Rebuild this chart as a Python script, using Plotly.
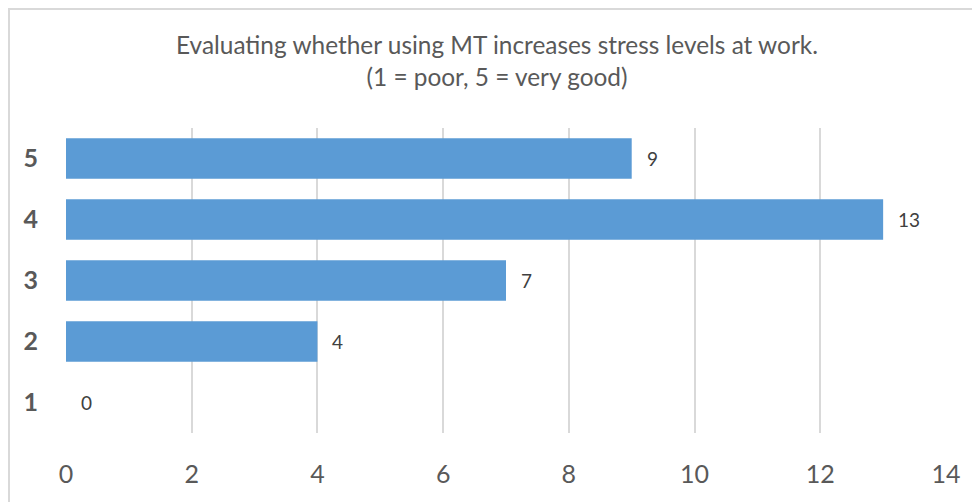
import plotly.graph_objects as go

categories = ["1", "2", "3", "4", "5"]
values = [0, 4, 7, 13, 9]
x_ticks = [0, 2, 4, 6, 8, 10, 12, 14]

title_text = "Evaluating whether using MT increases stress levels at work.<br>(1 = poor, 5 = very good)"

# the page body has an 8px margin, so the figure starts at (8, 8)
OFF = 8
W, H = 980 - OFF, 502 - OFF
L, R, T, B = 66 - OFF, 34, 128 - OFF, 69
pw, ph = W - L - R, H - T - B

fig = go.Figure(go.Bar(
    y=categories, x=values, orientation="h",
    marker=dict(color="#5B9BD5", line=dict(width=0)),
    hoverinfo="x+y",
))

for i, v in enumerate(values):
    fig.add_annotation(x=v, y=i, text=str(v), showarrow=False, xanchor="left",
                       xshift=13, font=dict(family="Lato", size=19, color="#404040"))

fig.update_layout(
    width=W, height=H,
    margin=dict(l=L, r=R, t=T, b=B, autoexpand=False),
    paper_bgcolor="white", plot_bgcolor="white",
    bargap=0.34,
    showlegend=False,
    title=dict(text=title_text, x=(497 - OFF) / W, xanchor="center", y=1 - (54 - OFF) / H, yanchor="middle",
               font=dict(family="Lato", size=24.4, color="#595959")),
    xaxis=dict(range=[0, 14], tickvals=x_ticks, showgrid=True, gridcolor="#D9D9D9", gridwidth=2,
               zeroline=False, showline=False, ticks="", ticklabelstandoff=24,
               tickfont=dict(family="Lato", size=25, color="#595959")),
    yaxis=dict(type="category", range=[-0.5, 4.5], showgrid=False, zeroline=False, showline=False,
               ticks="", ticklabelstandoff=27,
               tickfont=dict(family="Lato", size=25, color="#595959", weight="bold")),
    shapes=[dict(type="rect", xref="paper", yref="paper",
                 x0=1 / pw - L / pw, x1=2, y0=-1, y1=1 + (T - 1) / ph,
                 line=dict(color="#D9D9D9", width=2), layer="below")],
)

fig.write_html("out.html")
